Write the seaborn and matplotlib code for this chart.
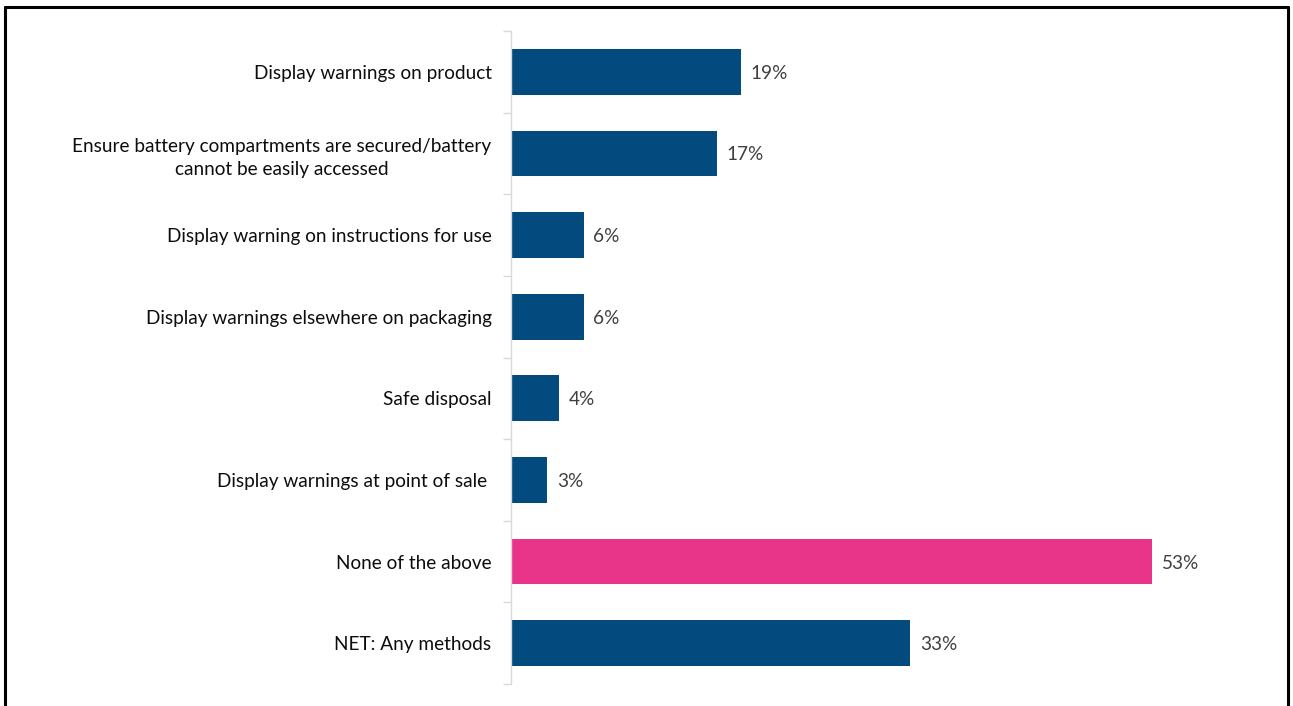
import matplotlib
matplotlib.use("Agg")
import matplotlib.pyplot as plt
from matplotlib.lines import Line2D
import seaborn as sns
import pandas as pd
import numpy as np

categories = [
    "Display warnings on product",
    "Ensure battery compartments are secured/battery\ncannot be easily accessed",
    "Display warning on instructions for use",
    "Display warnings elsewhere on packaging",
    "Safe disposal",
    "Display warnings at point of sale ",
    "None of the above",
    "NET: Any methods",
]
values = [19, 17, 6, 6, 4, 3, 53, 33]
bar_colors = ["#034A7E"] * 6 + ["#E8358A", "#034A7E"]

sns.set_theme(style="white")
plt.rcParams["font.family"] = ["Lato", "DejaVu Sans"]

df = pd.DataFrame({"category": categories, "value": values})

W, H, DPI = 1293, 706, 100
fig = plt.figure(figsize=(W / DPI, H / DPI), dpi=DPI)
ax = fig.add_axes([511 / W, (706 - 684) / H, (1237 - 511) / W, (684 - 31) / H])

sns.barplot(
    data=df, x="value", y="category", hue="category",
    palette=bar_colors, legend=False, width=0.56, ax=ax,
    saturation=1, edgecolor="none",
)

ax.set_xlim(0, 60)
ax.set_ylim(len(categories) - 0.5, -0.5)
ax.set_xlabel("")
ax.set_ylabel("")
ax.set_xticks([])

for s in ["top", "right", "bottom"]:
    ax.spines[s].set_visible(False)
ax.spines["left"].set_color("#D9D9D9")
ax.spines["left"].set_linewidth(1.0)

# Category labels, with boundary ticks between the bars
ax.tick_params(axis="y", which="major", left=False, length=0, pad=14,
               labelsize=13.7, labelcolor="#0D0D0D")
ax.set_yticks(np.arange(-0.5, len(categories), 1.0), minor=True)
ax.tick_params(axis="y", which="minor", left=True, length=6, width=1.0, color="#D9D9D9")
for lbl in ax.get_yticklabels():
    lbl.set_multialignment("center")
    lbl.set_linespacing(1.45)

for cont in ax.containers:
    for t in ax.bar_label(cont, fmt="%g%%", padding=7, fontsize=13.7, color="#404040"):
        t.set_va("center_baseline")

# Outer frame of the figure
frame_kw = dict(color="black", linewidth=2.2, transform=fig.transFigure)
fig.lines.append(Line2D([5 / W, 1288 / W], [1 - 6.5 / H, 1 - 6.5 / H], **frame_kw))
fig.lines.append(Line2D([5 / W, 5 / W], [0, 1 - 6.5 / H], **frame_kw))
fig.lines.append(Line2D([1288 / W, 1288 / W], [0, 1 - 6.5 / H], **frame_kw))

fig.savefig("out.png", dpi=DPI)
